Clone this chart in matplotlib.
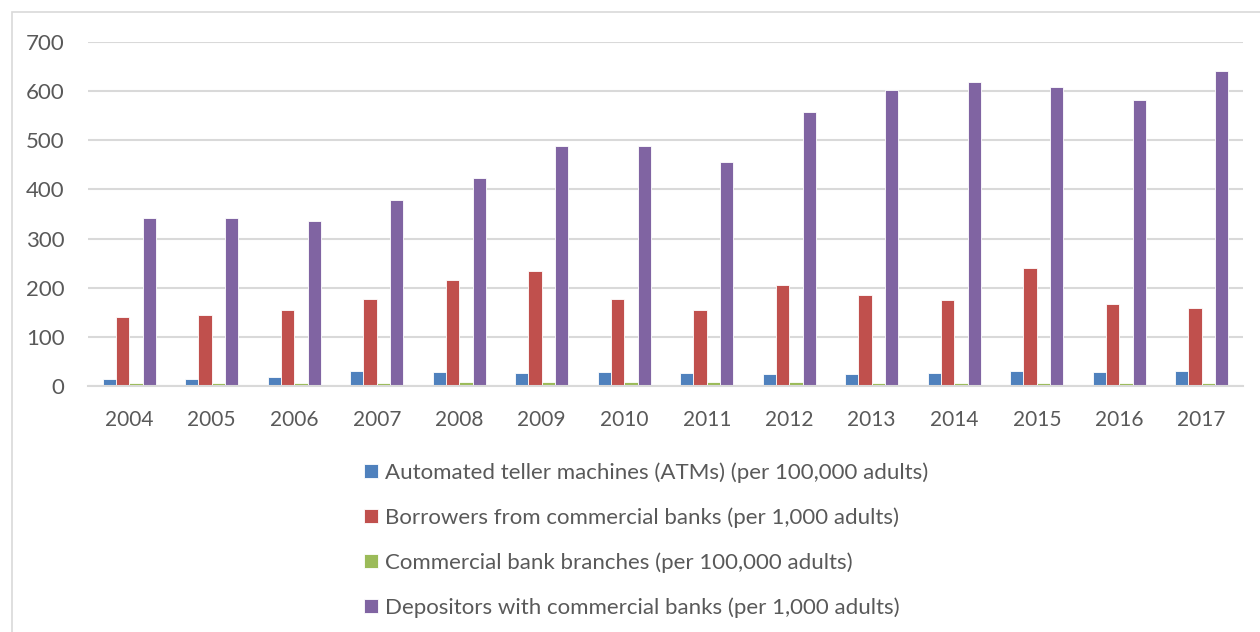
import numpy as np
import matplotlib
matplotlib.use("Agg")
import matplotlib.pyplot as plt
from matplotlib.patches import Rectangle

years = ["2004", "2005", "2006", "2007", "2008", "2009", "2010",
         "2011", "2012", "2013", "2014", "2015", "2016", "2017"]

atms = [13.5, 14, 17.6, 30.4, 27.7, 26.4, 27.7, 25.7, 25, 25, 26.4, 29.7, 29, 31]
borrowers = [140, 144.6, 154, 177.7, 215, 233, 178, 154.7, 204.7, 185.8, 174, 240, 167, 158.8]
branches = [5.4, 5.4, 5.4, 6, 7.4, 7.4, 7.4, 7.4, 7.4, 6.8, 6.8, 5.4, 6.8, 5.4]
depositors = [341.7, 341.7, 335.6, 378.3, 423.7, 488.8, 488.8, 454.9, 557.2, 601.9, 618.8, 608.6, 582.9, 641.2]

labels = ["Automated teller machines (ATMs) (per 100,000 adults)",
          "Borrowers from commercial banks (per 1,000 adults)",
          "Commercial bank branches (per 100,000 adults)",
          "Depositors with commercial banks (per 1,000 adults)"]
colors = ["#4f81bd", "#c0504d", "#9bbb59", "#8064a2"]

plt.rcParams['font.family'] = ['Lato', 'DejaVu Sans']
text_col = "#595959"
grid_col = "#d9d9d9"

fig = plt.figure(figsize=(12.6, 6.32), dpi=100)
ax = fig.add_axes([88/1260, 1-386/632, (1243-88)/1260, (386-42)/632])

# outer chart frame (only left and top edges fall inside the image)
fig.patches.append(Rectangle((12/1260, -0.1), 1.2, 1-12/632+0.1,
                             transform=fig.transFigure, fill=False,
                             edgecolor=grid_col, lw=1.2))

x = np.arange(len(years))
w = 0.161
series = [atms, borrowers, branches, depositors]
for i, (vals, c, lab) in enumerate(zip(series, colors, labels)):
    ax.bar(x + (i - 1.5) * w, vals, width=w, color=c, label=lab,
           edgecolor="white", linewidth=0.6)

ax.set_xlim(-0.5, len(years) - 0.5)
ax.set_ylim(0, 700)
ax.set_yticks(range(0, 701, 100))
ax.set_xticks(x)
ax.set_xticklabels(years)
ax.yaxis.grid(True, color=grid_col, lw=1.5)
ax.set_axisbelow(True)
for s in ["top", "right", "left"]:
    ax.spines[s].set_visible(False)
ax.spines["bottom"].set_color(grid_col)
ax.spines["bottom"].set_linewidth(1.5)
ax.tick_params(length=0, labelsize=15, colors=text_col)
ax.tick_params(axis="y", pad=17, labelsize=16)
ax.tick_params(axis="x", pad=17)

leg = ax.legend(loc="upper left", bbox_to_anchor=(364/1260, 1-462/632),
                bbox_transform=fig.transFigure, frameon=False, fontsize=16,
                handlelength=0.63, handleheight=0.63, handletextpad=0.3,
                labelspacing=1.1, borderaxespad=0, borderpad=0)
for t in leg.get_texts():
    t.set_color(text_col)

fig.savefig("out.png", dpi=100, facecolor="white")
